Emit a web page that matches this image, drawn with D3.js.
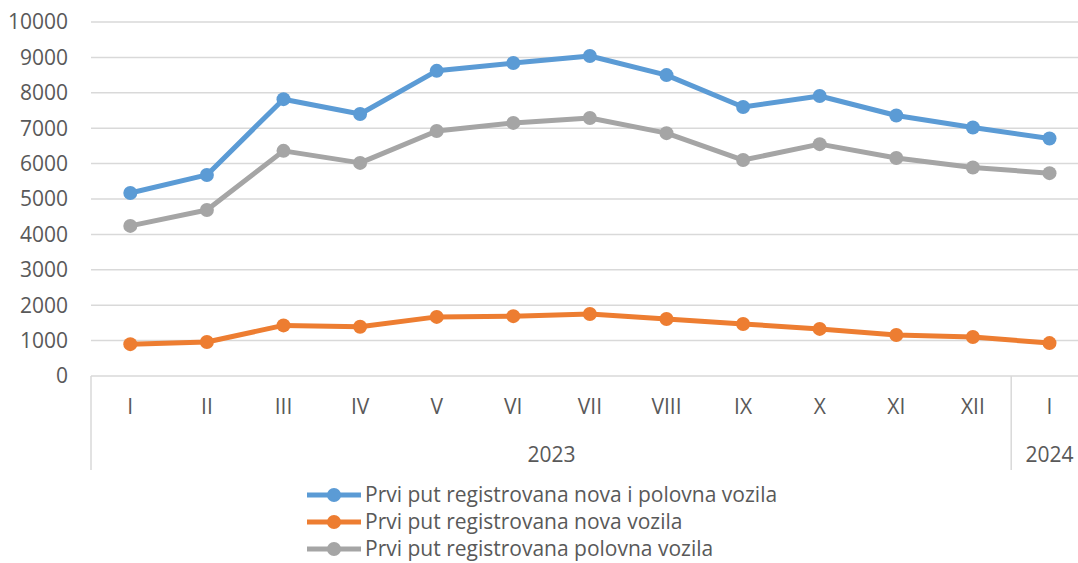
<!DOCTYPE html>
<html>
<head>
<meta charset="utf-8">
<script src="https://cdn.jsdelivr.net/npm/d3@7"></script>
<style>
  body { margin: 0; background: #fff; }
  svg { display: block; font-family: "Open Sans", sans-serif; }
</style>
</head>
<body>
<svg width="1078" height="563"></svg>
<script>
  // DATA
  var months = ["I", "II", "III", "IV", "V", "VI", "VII", "VIII", "IX", "X", "XI", "XII", "I"];
  var years = ["2023", "2023", "2023", "2023", "2023", "2023", "2023", "2023", "2023", "2023", "2023", "2023", "2024"];
  var seriesNames = [
    "Prvi put registrovana nova i polovna vozila",
    "Prvi put registrovana nova vozila",
    "Prvi put registrovana polovna vozila"
  ];
  var ukupno = [5170, 5680, 7820, 7400, 8620, 8840, 9040, 8500, 7600, 7910, 7360, 7020, 6710];
  var nova = [900, 960, 1430, 1390, 1670, 1690, 1750, 1610, 1470, 1330, 1160, 1100, 930];
  var polovna = [4240, 4690, 6360, 6020, 6920, 7150, 7290, 6860, 6100, 6550, 6160, 5890, 5730];
  var yTicks = [0, 1000, 2000, 3000, 4000, 5000, 6000, 7000, 8000, 9000, 10000];
  var colors = ["#5b9bd5", "#ed7d31", "#a5a5a5"];

  // SETUP
  var svg = d3.select("svg"),
    plotLeft = 92, step = 76.6,
    plotTop = 22, plotBottom = 376,
    fs = 21;

  var idx = months.map(function (d, i) { return i; });
  var x = d3.scaleBand().domain(idx).range([plotLeft, plotLeft + step * months.length]);
  var y = d3.scaleLinear().domain([0, 10000]).range([plotBottom, plotTop]);

  // grid
  svg.append("g").selectAll("line")
    .data(yTicks)
    .enter().append("line")
    .attr("x1", plotLeft - 1).attr("x2", 1078)
    .attr("y1", function (d) { return y(d); })
    .attr("y2", function (d) { return y(d); })
    .attr("stroke", "#d9d9d9")
    .attr("stroke-width", 1.5);

  svg.append("g").selectAll("text")
    .data(yTicks)
    .enter().append("text")
    .attr("x", 68)
    .attr("y", function (d) { return y(d); })
    .attr("dy", "0.35em")
    .attr("text-anchor", "end")
    .attr("font-size", fs)
    .attr("fill", "#595959")
    .text(function (d) { return d; });

  // x axis, two levels
  var splitX = x(12);
  [plotLeft - 1, splitX].forEach(function (xx) {
    svg.append("line")
      .attr("x1", xx).attr("x2", xx)
      .attr("y1", plotBottom).attr("y2", 470)
      .attr("stroke", "#d9d9d9")
      .attr("stroke-width", 1.5);
  });

  svg.append("g").selectAll("text")
    .data(months)
    .enter().append("text")
    .attr("x", function (d, i) { return x(i) + x.bandwidth() / 2; })
    .attr("y", 407)
    .attr("dy", "0.35em")
    .attr("text-anchor", "middle")
    .attr("font-size", fs)
    .attr("fill", "#595959")
    .text(function (d) { return d; });

  var yearGroups = d3.groups(idx, function (i) { return years[i]; });
  svg.append("g").selectAll("text")
    .data(yearGroups)
    .enter().append("text")
    .attr("x", function (d) {
      var a = x(d[1][0]), b = x(d[1][d[1].length - 1]) + x.bandwidth();
      return (a + b) / 2;
    })
    .attr("y", 455)
    .attr("dy", "0.35em")
    .attr("text-anchor", "middle")
    .attr("font-size", fs)
    .attr("fill", "#595959")
    .text(function (d) { return d[0]; });

  // lines
  var allSeries = [ukupno, nova, polovna];
  var line = d3.line()
    .x(function (d, i) { return x(i) + x.bandwidth() / 2; })
    .y(function (d) { return y(d); });

  // gray first, then orange, blue on top
  [2, 1, 0].forEach(function (s) {
    var g = svg.append("g");
    g.append("path")
      .datum(allSeries[s])
      .attr("fill", "none")
      .attr("stroke", colors[s])
      .attr("stroke-width", 5)
      .attr("stroke-linejoin", "round")
      .attr("d", line);
    g.selectAll("circle")
      .data(allSeries[s])
      .enter().append("circle")
      .attr("cx", function (d, i) { return x(i) + x.bandwidth() / 2; })
      .attr("cy", function (d) { return y(d); })
      .attr("r", 7)
      .attr("fill", colors[s]);
  });

  // legend
  var legend = svg.append("g").selectAll("g")
    .data(seriesNames)
    .enter().append("g")
    .attr("transform", function (d, i) { return "translate(307," + (495 + i * 27) + ")"; });

  legend.append("line")
    .attr("x1", 0).attr("x2", 54)
    .attr("stroke", function (d, i) { return colors[i]; })
    .attr("stroke-width", 5);
  legend.append("circle")
    .attr("cx", 27).attr("r", 7)
    .attr("fill", function (d, i) { return colors[i]; });
  legend.append("text")
    .attr("x", 58)
    .attr("dy", "0.35em")
    .attr("font-size", fs)
    .attr("fill", "#595959")
    .text(function (d) { return d; });
</script>
</body>
</html>
